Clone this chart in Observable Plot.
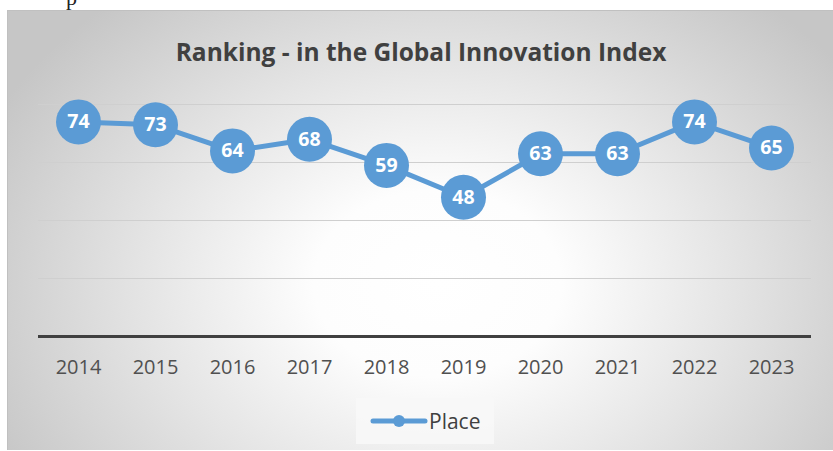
<!DOCTYPE html>
<html>
<head>
<meta charset="utf-8">
<script src="https://cdn.jsdelivr.net/npm/d3@7"></script>
<script src="https://cdn.jsdelivr.net/npm/@observablehq/plot@0.6"></script>
<style>
  html, body { margin: 0; padding: 0; background: #fff; width: 833px; height: 451px; overflow: hidden; }
  body { font-family: "Open Sans", sans-serif; position: relative; }
  #frag { position: absolute; left: 66px; top: -15px; font-family: "Liberation Serif", serif; font-size: 22px; color: #222; }
  #card {
    position: absolute; left: 7px; top: 10px; width: 826px; height: 439px;
    border-top: 1px solid #c0c0c0; border-left: 1px solid #c0c0c0;
    background: radial-gradient(ellipse 60% 85% at 52% 62%, #ffffff 0%, #fdfdfd 25%, #e4e4e4 60%, #c6c6c6 100%);
    overflow: hidden;
  }
  #title { position: absolute; left: 0; width: 826px; top: 24px; text-align: center;
    font-weight: 700; font-size: 24.5px; color: #404040; }
  #chart { position: absolute; left: 0; top: 70px; }
  #legend { position: absolute; left: 348px; top: 387px; width: 138px; height: 46px;
    background: rgba(248,248,248,0.85); display: flex; align-items: center; }
  #legend svg { margin-left: 13px; }
  #legend span { font-size: 21px; color: #404040; margin-left: 0px; }
</style>
</head>
<body>
<div id="frag">p</div>
<div id="card">
  <div id="title"></div>
  <div id="chart"></div>
  <div id="legend"></div>
</div>
<script>
const years = ["2014","2015","2016","2017","2018","2019","2020","2021","2022","2023"];
const place = [74, 73, 64, 68, 59, 48, 63, 63, 74, 65];
const gridValues = [20, 40, 60, 80];
const titleText = "Ranking - in the Global Innovation Index";
const seriesName = "Place";

const color = "#5b9bd5";
const data = years.map((y, i) => ({year: y, value: place[i]}));

document.getElementById("title").textContent = titleText;

const chart = Plot.plot({
  width: 826,
  height: 315,
  marginLeft: 30,
  marginRight: 23,
  marginTop: 23,
  marginBottom: 60,
  style: {background: "transparent", fontFamily: "Open Sans, sans-serif", overflow: "visible"},
  x: {type: "point", domain: years, padding: 0.5, label: null},
  y: {domain: [0, 80], axis: null},
  marks: [
    Plot.ruleY(gridValues, {stroke: "#cfcfcf", strokeWidth: 1}),
    Plot.ruleY([0], {stroke: "#404040", strokeWidth: 3}),
    Plot.axisX({tickSize: 0, tickPadding: 23, fontSize: 20, color: "#505050", label: null}),
    Plot.line(data, {x: "year", y: "value", stroke: color, strokeWidth: 5}),
    Plot.dot(data, {x: "year", y: "value", r: 22.5, fill: color}),
    Plot.text(data, {x: "year", y: "value", text: d => String(d.value), fill: "white", fontSize: 19.5, fontWeight: 700})
  ]
});
document.getElementById("chart").appendChild(chart);

// legend
const legend = document.getElementById("legend");
const sw = d3.create("svg").attr("width", 60).attr("height", 20);
sw.append("line").attr("x1", 4).attr("x2", 56).attr("y1", 10).attr("y2", 10)
  .attr("stroke", color).attr("stroke-width", 5).attr("stroke-linecap", "round");
sw.append("circle").attr("cx", 30).attr("cy", 10).attr("r", 6).attr("fill", color);
legend.appendChild(sw.node());
const lab = document.createElement("span");
lab.textContent = seriesName;
legend.appendChild(lab);
</script>
</body>
</html>
